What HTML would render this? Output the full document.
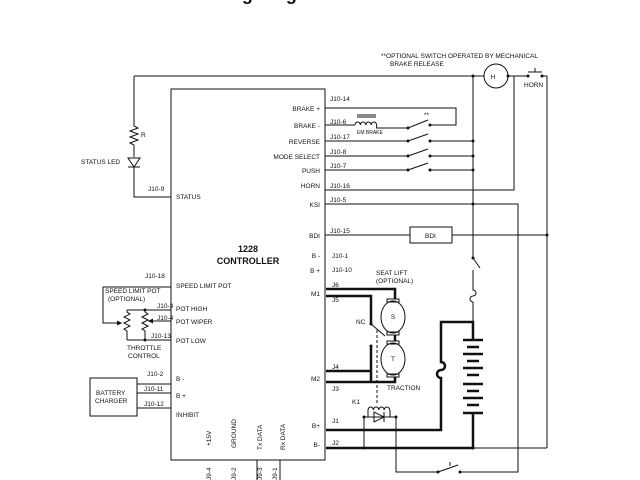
<!DOCTYPE html>
<html><head><meta charset="utf-8"><style>
html,body{margin:0;padding:0;background:#fff;width:640px;height:480px;overflow:hidden}
svg{display:block}
text{font-family:"Liberation Sans",sans-serif;font-size:6.5px;fill:#111}
</style></head><body>
<svg width="640" height="480" viewBox="0 0 640 480" xmlns="http://www.w3.org/2000/svg">
<g stroke="#111" stroke-width="1" fill="none">
<rect x="171" y="89" width="154" height="371"/>
<path d="M134 76 H484 M508 76 H528 M542 76 H547 V448"/>
<circle cx="496" cy="76" r="12"/>
<path d="M528 72 H542 M535 72 V68"/>
<path d="M134 76 V126 l4 2 -8 3 8 3 -8 3 8 3 -8 3 4 2 V157 M128 158 H140 L134 167 Z M128 167 H140 M134 167 V197 H171"/>
<path d="M325 108 H456 V125 H430"/>
<path d="M325 125 H355 M355 125 a2.7 3 0 0 1 5.4 0 a2.7 3 0 0 1 5.4 0 a2.7 3 0 0 1 5.4 0 a2.7 3 0 0 1 5.4 0 V128 H408 M357 117 H376 M357 115 H376 M408 128 L428 120"/>
<path d="M325 141 H408 L428 134 M430 141 H473 M325 156 H408 L428 149 M430 156 H473 M325 170 H408 L428 163 M430 170 H473"/>
<path d="M325 190 H514 V76"/>
<path d="M325 204 H518 V472 H460 M438 472 H396 V417"/>
<path d="M438 472 L458 465 M450 466 V462"/>
<path d="M325 235 H410 M452 235 H547"/>
<rect x="410" y="227" width="42" height="16"/>
<path d="M473 76 V258 L480 268 M473 270 V290 a3 3 0 0 1 0 6 a3 3 0 0 0 0 6 V322"/>
<path d="M171 287 H103 V323 H122 M171 310 H127 M171 340 H127 M127 310 v2 l3 2 -6 3 6 3 -6 3 6 3 -6 3 3 2 v9 M145 310 v2 l3 2 -6 3 6 3 -6 3 6 3 -6 3 3 2 v9 M148 321 H171"/>
<rect x="90" y="378" width="47" height="38"/>
<path d="M137 384 H171 M137 393 H171 M137 408 H171"/>
<path d="M257 460 V480 M280 460 V480"/>
<ellipse cx="393" cy="317" rx="12" ry="16"/>
<ellipse cx="393" cy="359" rx="12" ry="16"/>
<rect x="387" y="299" width="12" height="3"/><rect x="387" y="332" width="12" height="3"/>
<rect x="387" y="341" width="12" height="3"/><rect x="387" y="374" width="12" height="3"/>
<path d="M371 324 L385 336"/>
<path d="M377 330 V403" stroke-dasharray="3,2"/>
<path d="M368 410 a2.7 3 0 0 1 5.4 0 a2.7 3 0 0 1 5.4 0 a2.7 3 0 0 1 5.4 0 a2.7 3 0 0 1 5.4 0 M368 410 V417 M390 410 V417 M364 417 H396 M364 417 V448 M374 412 V422 L384 417 Z M384 412 V422"/>
<path d="M473 448 H547"/>
</g>
<g stroke="#111" stroke-width="2.5" fill="none">
<path d="M326 289 H395 V299 M326 296 H371 V324 M395 335 V341 M326 371 H371 M326 382 H395 V377 M371 346 V382"/>
<path d="M326 430 H441 V378 a4 4 0 0 1 0 -8 a4 4 0 0 0 0 -8 V322 H473 V340 M473 413 V448 H326"/>
<path d="M463 340 H483 M467 347 H479 M463 354 H483 M467 361 H479 M463 368 H483 M467 375 H479 M463 384 H483 M467 391 H479 M463 398 H483 M467 405 H479 M463 413 H483"/>
</g>
<g fill="#111">
<circle cx="473" cy="76" r="1.5"/><circle cx="508" cy="76" r="1.5"/><circle cx="528" cy="76" r="1.5"/><circle cx="542" cy="76" r="1.5"/>
<circle cx="408" cy="128" r="1.5"/><circle cx="430" cy="125" r="1.5"/>
<circle cx="408" cy="141" r="1.5"/><circle cx="430" cy="141" r="1.5"/><circle cx="473" cy="141" r="1.5"/>
<circle cx="408" cy="156" r="1.5"/><circle cx="430" cy="156" r="1.5"/><circle cx="473" cy="156" r="1.5"/>
<circle cx="408" cy="170" r="1.5"/><circle cx="430" cy="170" r="1.5"/><circle cx="473" cy="170" r="1.5"/>
<circle cx="473" cy="204" r="1.5"/><circle cx="547" cy="235" r="1.5"/><circle cx="473" cy="258" r="1.5"/>
<circle cx="145" cy="310" r="1.5"/><circle cx="145" cy="340" r="1.5"/>
<circle cx="364" cy="417" r="1.5"/><circle cx="396" cy="417" r="1.5"/><circle cx="364" cy="448" r="1.5"/>
<circle cx="438" cy="472" r="1.5"/><circle cx="460" cy="472" r="1.5"/><circle cx="473" cy="448" r="1.5"/>
<circle cx="371" cy="324" r="1.5"/><circle cx="371" cy="346" r="1.5"/>
<path d="M122 323 l-5 -2.5 v5 Z M148 321 l5 -2.5 v5 Z"/>
<text x="197" y="0" style="font-size:18px;font-weight:bold">Wiring Diagram</text>
</g>
<text x="381" y="58">**OPTIONAL SWITCH OPERATED BY MECHANICAL</text>
<text x="390" y="66">BRAKE RELEASE</text>
<text x="493" y="79" text-anchor="middle">H</text>
<text x="524" y="87">HORN</text>
<text x="141" y="137">R</text>
<text x="81" y="164">STATUS LED</text>
<text x="148" y="191">J10-9</text>
<text x="176" y="199">STATUS</text>
<g text-anchor="end">
<text x="320" y="111">BRAKE +</text><text x="320" y="128">BRAKE -</text><text x="320" y="144">REVERSE</text>
<text x="320" y="159">MODE SELECT</text><text x="320" y="173">PUSH</text><text x="320" y="188">HORN</text>
<text x="320" y="207">KSI</text><text x="320" y="238">BDI</text><text x="320" y="258">B -</text><text x="320" y="273">B +</text>
<text x="320" y="296">M1</text><text x="320" y="381">M2</text><text x="320" y="428">B+</text><text x="320" y="447">B-</text>
</g>
<text x="330" y="101">J10-14</text><text x="330" y="124">J10-6</text><text x="330" y="139">J10-17</text>
<text x="330" y="154">J10-8</text><text x="330" y="168">J10-7</text><text x="330" y="188">J10-16</text>
<text x="330" y="202">J10-5</text><text x="330" y="233">J10-15</text><text x="332" y="258">J10-1</text><text x="332" y="272">J10-10</text>
<text x="332" y="287">J6</text><text x="332" y="302">J5</text><text x="332" y="369">J4</text><text x="332" y="391">J3</text>
<text x="332" y="423">J1</text><text x="332" y="445">J2</text>
<text x="357" y="134" style="font-size:5px">EM BRAKE</text>
<text x="424" y="117">**</text>
<text x="425" y="238">BDI</text>
<text x="376" y="275">SEAT LIFT</text><text x="376" y="283">(OPTIONAL)</text>
<text x="356" y="324">NC</text>
<text x="393" y="319" text-anchor="middle">S</text><text x="393" y="361" text-anchor="middle">T</text>
<text x="387" y="390">TRACTION</text><text x="352" y="404">K1</text>
<text x="248" y="252" text-anchor="middle" style="font-size:9px;font-weight:bold">1228</text>
<text x="248" y="264" text-anchor="middle" style="font-size:9px;font-weight:bold">CONTROLLER</text>
<text x="145" y="278">J10-18</text><text x="176" y="288">SPEED LIMIT POT</text>
<text x="105" y="293">SPEED LIMIT POT</text><text x="108" y="301">(OPTIONAL)</text>
<text x="157" y="308">J10-3</text><text x="176" y="311">POT HIGH</text>
<text x="157" y="320">J10-4</text><text x="176" y="324">POT WIPER</text>
<text x="151" y="338">J10-13</text><text x="176" y="343">POT LOW</text>
<text x="127" y="350">THROTTLE</text><text x="128" y="358">CONTROL</text>
<text x="147" y="376">J10-2</text><text x="176" y="381">B -</text>
<text x="96" y="395">BATTERY</text><text x="95" y="403">CHARGER</text>
<text x="144" y="391">J10-11</text><text x="176" y="398">B +</text>
<text x="144" y="406">J10-12</text><text x="176" y="417">INHIBIT</text>
<text transform="translate(211,446) rotate(-90)">+15V</text>
<text transform="translate(236,448) rotate(-90)">GROUND</text>
<text transform="translate(262,450) rotate(-90)">Tx DATA</text>
<text transform="translate(285,450) rotate(-90)">Rx DATA</text>
<text transform="translate(211,480) rotate(-90)">J9-4</text>
<text transform="translate(236,480) rotate(-90)">J9-2</text>
<text transform="translate(262,480) rotate(-90)">J9-3</text>
<text transform="translate(277,480) rotate(-90)">J9-1</text>
</svg>
</body></html>
